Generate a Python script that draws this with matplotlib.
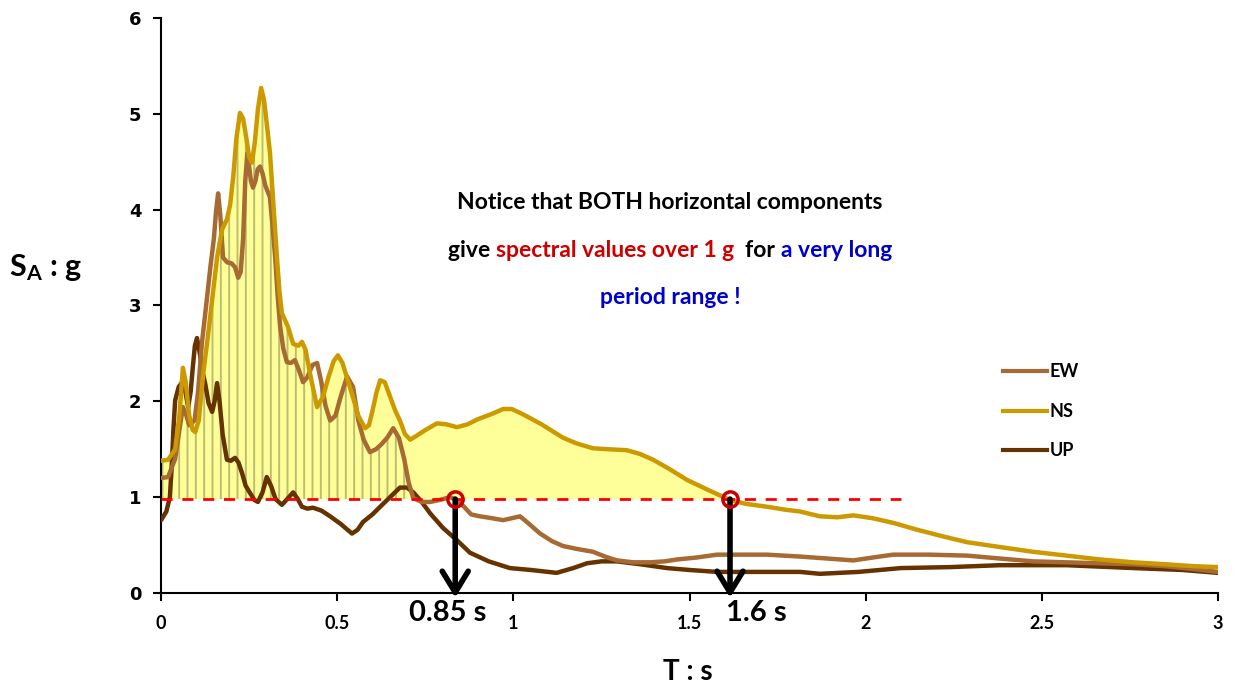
import numpy as np
import matplotlib
matplotlib.use('Agg')
import matplotlib.pyplot as plt
from matplotlib.lines import Line2D

plt.rcParams['font.family'] = ['Lato', 'DejaVu Sans']
plt.rcParams['mathtext.fontset'] = 'custom'
plt.rcParams['mathtext.rm'] = 'Lato'
plt.rcParams['mathtext.bf'] = 'Lato:bold'
plt.rcParams['hatch.linewidth'] = 1.4

# --- response spectra (T in s, SA in g) ---
t_ns = [0.0, 0.02, 0.04, 0.052, 0.062, 0.07, 0.08, 0.09, 0.097, 0.107, 0.12, 0.132, 0.145,
        0.159, 0.173, 0.187, 0.196, 0.205, 0.214, 0.224, 0.233, 0.242, 0.25, 0.258, 0.266,
        0.275, 0.284, 0.292, 0.3, 0.309, 0.319, 0.329, 0.336, 0.343, 0.36, 0.375, 0.39,
        0.40, 0.41, 0.425, 0.443, 0.46, 0.475, 0.49, 0.502, 0.515, 0.54, 0.56, 0.579,
        0.59, 0.60, 0.612, 0.622, 0.635, 0.65, 0.665, 0.678, 0.692, 0.707, 0.725,
        0.75, 0.783, 0.81, 0.84, 0.87, 0.897, 0.94, 0.971, 0.995, 1.019, 1.05, 1.08,
        1.141, 1.18, 1.226, 1.27, 1.322, 1.36, 1.397, 1.44, 1.493, 1.55, 1.615, 1.66,
        1.72, 1.77, 1.814, 1.87, 1.92, 1.965, 2.02, 2.08, 2.146, 2.22, 2.288, 2.38, 2.475,
        2.57, 2.665, 2.76, 2.85, 2.93, 3.0]
sa_ns = [1.38, 1.39, 1.5, 1.85, 2.35, 2.2, 1.85, 1.7, 1.68, 1.8, 2.3, 2.65, 3.06,
         3.5, 3.79, 3.9, 4.05, 4.35, 4.75, 5.01, 4.95, 4.75, 4.55, 4.49, 4.7,
         5.05, 5.27, 5.15, 4.9, 4.6, 4.05, 3.5, 3.15, 2.92, 2.78, 2.6, 2.58,
         2.62, 2.54, 2.25, 1.94, 2.05, 2.25, 2.42, 2.48, 2.4, 2.1, 1.85, 1.72,
         1.75, 1.9, 2.1, 2.22, 2.2, 2.05, 1.9, 1.8, 1.66, 1.6, 1.64,
         1.7, 1.77, 1.76, 1.73, 1.76, 1.81, 1.87, 1.92, 1.92, 1.88, 1.82, 1.76,
         1.62, 1.56, 1.51, 1.5, 1.49, 1.45, 1.39, 1.3, 1.18, 1.08, 0.97, 0.93,
         0.9, 0.87, 0.85, 0.8, 0.79, 0.81, 0.78, 0.73, 0.66, 0.59, 0.53, 0.48, 0.43,
         0.39, 0.35, 0.32, 0.30, 0.28, 0.27]

t_ew = [0.0, 0.02, 0.04, 0.052, 0.062, 0.072, 0.08, 0.095, 0.105, 0.116, 0.128, 0.14,
        0.15, 0.156, 0.162, 0.168, 0.176, 0.188, 0.2, 0.21, 0.219, 0.226, 0.233, 0.239,
        0.245, 0.25, 0.255, 0.261, 0.268, 0.274, 0.281, 0.288, 0.296, 0.309, 0.316,
        0.324, 0.331, 0.338, 0.347, 0.357, 0.368, 0.38, 0.392, 0.403, 0.415, 0.43,
        0.443, 0.455, 0.467, 0.48, 0.495, 0.51, 0.528, 0.545, 0.56, 0.575, 0.593, 0.61,
        0.625, 0.642, 0.659, 0.675, 0.69, 0.703, 0.716, 0.74, 0.764, 0.79, 0.82, 0.84,
        0.86, 0.88, 0.905, 0.94, 0.971, 0.995, 1.019, 1.045, 1.076, 1.11, 1.141, 1.18,
        1.226, 1.26, 1.294, 1.34, 1.388, 1.43, 1.465, 1.52, 1.578, 1.65, 1.72, 1.814,
        1.89, 1.965, 2.02, 2.078, 2.18, 2.288, 2.38, 2.475, 2.57, 2.665, 2.76, 2.85,
        2.93, 3.0]
sa_ew = [1.2, 1.21, 1.4, 1.7, 1.94, 1.85, 1.75, 1.8, 2.1, 2.61, 3.0, 3.4,
         3.7, 3.98, 4.17, 3.95, 3.5, 3.45, 3.44, 3.4, 3.29, 3.35, 3.7, 4.3,
         4.59, 4.45, 4.3, 4.23, 4.3, 4.42, 4.45, 4.38, 4.25, 4.13, 3.85,
         3.5, 3.1, 2.78, 2.55, 2.41, 2.4, 2.43, 2.32, 2.2, 2.25, 2.38,
         2.4, 2.2, 1.95, 1.8, 1.85, 2.05, 2.26, 2.15, 1.8, 1.6, 1.47, 1.5,
         1.55, 1.62, 1.72, 1.62, 1.4, 1.15, 0.99, 0.95, 0.95, 0.97, 1.0, 0.97,
         0.9, 0.82, 0.8, 0.78, 0.76, 0.78, 0.8, 0.72, 0.62, 0.54, 0.49, 0.46,
         0.43, 0.38, 0.34, 0.32, 0.32, 0.33, 0.35, 0.37, 0.4, 0.4, 0.4, 0.38,
         0.36, 0.34, 0.37, 0.4, 0.4, 0.39, 0.36, 0.33, 0.32, 0.31, 0.3, 0.28,
         0.25, 0.22]

t_up = [0.0, 0.015, 0.025, 0.03, 0.035, 0.04, 0.05, 0.06, 0.068, 0.077, 0.084, 0.09,
        0.096, 0.102, 0.11, 0.118, 0.125, 0.135, 0.145, 0.152, 0.159, 0.166, 0.175, 0.187,
        0.198, 0.21, 0.22, 0.23, 0.24, 0.253, 0.265, 0.275, 0.288, 0.3, 0.312, 0.325,
        0.343, 0.358, 0.375, 0.388, 0.4, 0.415, 0.431, 0.455, 0.48, 0.51, 0.542, 0.558,
        0.573, 0.6, 0.622, 0.65, 0.678, 0.698, 0.716, 0.74, 0.764, 0.8, 0.84, 0.877, 0.93,
        0.99, 1.05, 1.123, 1.17, 1.209, 1.25, 1.294, 1.36, 1.436, 1.5, 1.578, 1.7, 1.814,
        1.87, 1.98, 2.1, 2.24, 2.38, 2.57, 2.76, 2.9, 3.0]
sa_up = [0.76, 0.85, 1.0, 1.3, 1.7, 2.01, 2.15, 2.2, 2.12, 1.94, 2.1, 2.35,
         2.58, 2.66, 2.5, 2.3, 2.19, 1.98, 1.89, 2.0, 2.19, 2.0, 1.65, 1.39,
         1.38, 1.41, 1.36, 1.25, 1.12, 1.04, 0.97, 0.95, 1.05, 1.21, 1.12, 0.98,
         0.92, 0.98, 1.05, 0.98, 0.9, 0.88, 0.89, 0.86, 0.8, 0.72, 0.62, 0.66,
         0.74, 0.82, 0.9, 1.0, 1.1, 1.1, 1.05, 0.95, 0.83, 0.68, 0.55, 0.42, 0.33,
         0.26, 0.24, 0.21, 0.26, 0.31, 0.33, 0.33, 0.3, 0.26, 0.24, 0.22, 0.22, 0.22,
         0.2, 0.22, 0.26, 0.27, 0.29, 0.29, 0.26, 0.24, 0.21]

threshold = 0.98
t_cross = [0.835, 1.615]
cross_labels = ['0.85 s', '1.6 s']
label_x = [0.815, 1.69]

c_ew = '#A66A32'
c_ns = '#CC9A00'
c_up = '#663300'

t_ns = np.array(t_ns); sa_ns = np.array(sa_ns)
t_ew = np.array(t_ew); sa_ew = np.array(sa_ew)

fig = plt.figure(figsize=(12.37, 6.9), dpi=100)
ax = fig.add_axes([0.1302, 0.1406, 0.8544, 0.8333])

# yellow band where NS stays above 1 g
ax.fill_between(t_ns, threshold, sa_ns, where=(sa_ns >= threshold) & (t_ns <= 1.62),
                facecolor='#FFFF99', edgecolor='none', interpolate=True, zorder=1)
# striped part of the short-period range
hatch_col = '#BDBD72'
m1 = t_ns <= 0.45
ax.fill_between(t_ns[m1], threshold, sa_ns[m1], facecolor='none', edgecolor=hatch_col,
                hatch='||', linewidth=0, zorder=1.5)
m2 = (t_ew >= 0.44) & (t_ew <= 0.716)
ax.fill_between(t_ew[m2], threshold, sa_ew[m2], facecolor='none', edgecolor=hatch_col,
                hatch='||', linewidth=0, zorder=1.5)

line_kw = dict(lw=3.2, solid_capstyle='round', solid_joinstyle='round')
ax.plot(t_up, sa_up, color=c_up, zorder=3, **line_kw)
ax.plot(t_ew, sa_ew, color=c_ew, zorder=4, **line_kw)
ax.plot(t_ns, sa_ns, color=c_ns, zorder=5, **line_kw)

ax.plot([0, 2.1], [threshold, threshold], color='#FF0000', lw=2, ls=(0, (4, 3.5)), zorder=6)

for tc, lx, lab in zip(t_cross, label_x, cross_labels):
    ax.annotate('', xy=(tc, -0.05), xytext=(tc, threshold),
                arrowprops=dict(arrowstyle='->,head_length=0.9,head_width=0.55',
                                mutation_scale=17, lw=4, color='black',
                                shrinkA=0, shrinkB=0),
                annotation_clip=False, zorder=7)
    ax.plot(tc, threshold, 'o', ms=11, mfc='none', mec='#CC0000', mew=2.5, zorder=8,
            clip_on=False)
    ax.text(lx, -0.21, lab, ha='center', va='center', fontsize=21, fontweight='bold',
            zorder=8)

ax.set_xlim(0, 3)
ax.set_ylim(0, 6)
ax.set_xticks([0, 0.5, 1, 1.5, 2, 2.5, 3])
ax.set_xticklabels(['0', '0.5', '1', '1.5', '2', '2.5', '3'])
ax.set_yticks(range(7))
for s in ['top', 'right']:
    ax.spines[s].set_visible(False)
for s in ['left', 'bottom']:
    ax.spines[s].set_linewidth(1.5)
ax.tick_params(direction='out', length=6, width=1.5)
ax.tick_params(axis='x', pad=10)
ax.tick_params(axis='y', pad=8)
for lab in ax.get_xticklabels():
    lab.set_fontweight('bold')
    lab.set_fontsize(13)
for lab in ax.get_yticklabels():
    lab.set_family(['DejaVu Sans'])
    lab.set_fontweight('bold')
    lab.set_fontsize(13)

fig.text(0.037, 0.612, r'$\mathbf{S_{A}}$ : g', fontsize=22, fontweight='bold',
         ha='center', va='center')
fig.text(0.556, 0.026, 'T : s', fontsize=20, fontweight='bold', ha='center', va='center')

# legend
handles = [Line2D([], [], color=c, lw=3) for c in (c_ew, c_ns, c_up)]
leg = fig.legend(handles, ['EW', 'NS', 'UP'], loc='upper left',
                 bbox_to_anchor=(0.798, 0.497), frameon=False, handlelength=2.4,
                 handletextpad=0.15, labelspacing=1.25,
                 prop=dict(weight='bold', size=13))


def coloured_line(y, pieces, xc=0.5416, size=16.5):
    # draw a sentence made of differently coloured pieces, centred on xc (figure coords)
    r = fig.canvas.get_renderer()

    def width(s):
        a = fig.text(0, 0, '|' + s + '|', fontsize=size, fontweight='bold')
        b = fig.text(0, 0, '||', fontsize=size, fontweight='bold')
        w = a.get_window_extent(r).width - b.get_window_extent(r).width
        a.remove(); b.remove()
        return w

    widths = [width(s) for s, _ in pieces]
    total = sum(widths)
    x = xc * fig.bbox.width - total / 2
    for (s, c), w in zip(pieces, widths):
        fig.text(x / fig.bbox.width, y, s, color=c, fontsize=size, fontweight='bold',
                 ha='left', va='center')
        x += w


coloured_line(0.707, [('Notice that BOTH horizontal components', 'black')])
coloured_line(0.637, [('give ', 'black'), ('spectral values over 1 g', '#CC0000'),
                      ('  for ', 'black'), ('a very long', '#0000CC')])
coloured_line(0.569, [('period range !', '#0000CC')])

fig.savefig('out.png', dpi=100)
